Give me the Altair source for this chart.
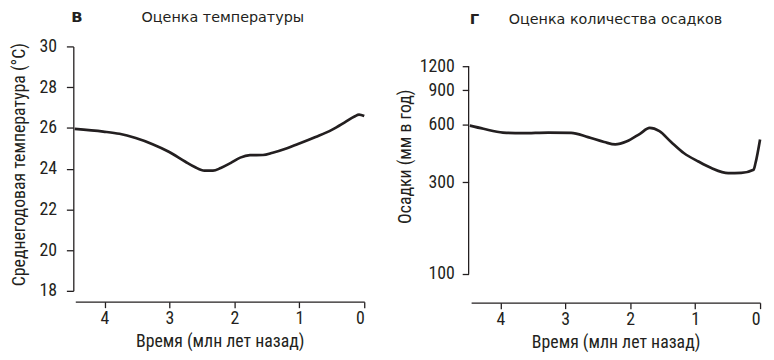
import altair as alt
import pandas as pd

# ---- data ----
temp_age = [4.46, 4.02, 3.77, 3.52, 3.26, 3.01, 2.76, 2.61, 2.46, 2.33, 2.21, 2.06,
            1.91, 1.76, 1.56, 1.41, 1.20, 1.00, 0.75, 0.50, 0.30, 0.15, 0.08, 0.0]
temp_val = [25.95, 25.82, 25.71, 25.50, 25.20, 24.83, 24.35, 24.08, 23.90, 23.90, 24.03, 24.27,
            24.54, 24.66, 24.67, 24.78, 24.99, 25.23, 25.55, 25.90, 26.27, 26.56, 26.65, 26.58]

prec_age = [4.47, 4.26, 3.96, 3.66, 3.26, 2.91, 2.65, 2.40, 2.23, 2.05, 1.85, 1.70,
            1.55, 1.37, 1.17, 0.95, 0.75, 0.49, 0.29, 0.10, 0.07, 0.0]
prec_val = [590, 568, 543, 539, 543, 541, 514, 485, 471, 489, 535, 574,
            552, 485, 424, 384, 355, 334, 335, 348, 377, 500]

x_ticks = [4, 3, 2, 1, 0]
temp_ticks = [18, 20, 22, 24, 26, 28, 30]
prec_ticks = [100, 300, 600, 900, 1200]
panel_letters = ["В", "Г"]
panel_titles = ["Оценка температуры", "Оценка количества осадков"]
x_title = "Время (млн лет назад)"
temp_title = "Среднегодовая температура (°C)"
prec_title = "Осадки (мм в год)"
prec_axis_span = [100, 1200]

temp_df = pd.DataFrame({"age": temp_age, "val": temp_val})
prec_df = pd.DataFrame({"age": prec_age, "val": prec_val})

INK = "#231f20"
AX_FONT = "Roboto Condensed, Liberation Sans Narrow, DejaVu Sans Condensed, Roboto, sans-serif"
T_FONT = "DejaVu Sans, sans-serif"
W, H = 292, 247

xscale = alt.Scale(domain=[0, 4.45], reverse=True, nice=False, zero=False)


def xaxis(offset):
    return alt.Axis(values=x_ticks, title=x_title, offset=offset, grid=False, format="d",
                    tickSize=6, labelPadding=2, titlePadding=5)


def titles(i, letter_dx, text_dx, y):
    ldf = pd.DataFrame({"t": [panel_letters[i]]})
    tdf = pd.DataFrame({"t": [panel_titles[i]]})
    letter = alt.Chart(ldf).mark_text(align="left", baseline="alphabetic", font=T_FONT,
                                      fontSize=15, fontWeight="bold", color=INK).encode(
        text="t:N", x=alt.value(letter_dx), y=alt.value(y))
    title = alt.Chart(tdf).mark_text(align="left", baseline="alphabetic", font=T_FONT,
                                     fontSize=14.5, color=INK).encode(
        text="t:N", x=alt.value(text_dx), y=alt.value(y))
    return letter, title


# ---- left panel: temperature ----
temp_line = alt.Chart(temp_df).mark_line(color=INK, strokeWidth=2.7, interpolate="monotone").encode(
    x=alt.X("age:Q", scale=xscale, axis=xaxis(11)),
    y=alt.Y("val:Q", scale=alt.Scale(domain=[18, 30], nice=False, zero=False),
            axis=alt.Axis(values=temp_ticks, title=temp_title, offset=2, grid=False,
                          tickSize=7, labelPadding=10, titlePadding=11, titleY=119)),
)
l1, l2 = titles(0, -4, 67, -25)
left = alt.layer(temp_line, l1, l2).properties(width=W, height=H)

# ---- right panel: precipitation ----
yscale_p = alt.Scale(type="log", domain=[81.7, 1522], nice=False)
prec_line = alt.Chart(prec_df).mark_line(color=INK, strokeWidth=2.7, interpolate="monotone").encode(
    x=alt.X("age:Q", scale=xscale, axis=xaxis(12)),
    y=alt.Y("val:Q", scale=yscale_p,
            axis=alt.Axis(values=prec_ticks, title=prec_title, offset=2.5, grid=False, domain=False,
                          format="d", tickSize=6.5, labelPadding=8, titlePadding=5, titleY=111)),
)
span_df = pd.DataFrame({"lo": [prec_axis_span[0]], "hi": [prec_axis_span[1]]})
prec_axisline = alt.Chart(span_df).mark_rule(color=INK, strokeWidth=1.3).encode(
    y=alt.Y("lo:Q", scale=yscale_p), y2="hi:Q", x=alt.value(-2.5))
r1, r2 = titles(1, -1.5, 38, -23)
right = alt.layer(prec_line, prec_axisline, r1, r2).properties(width=W, height=H)

chart = alt.hconcat(left, right, spacing=26).properties(
    padding={"left": 2, "top": 0, "right": 0, "bottom": 0}
).configure_view(stroke=None).configure_axis(
    domainColor=INK, tickColor=INK, domainWidth=1.3, tickWidth=1.3,
    labelFont=AX_FONT, labelFontSize=18, labelColor=INK,
    titleFont=AX_FONT, titleFontSize=18, titleColor=INK, titleFontWeight="normal",
)

chart.save("out.html", embed_options={"renderer": "svg", "actions": False})
